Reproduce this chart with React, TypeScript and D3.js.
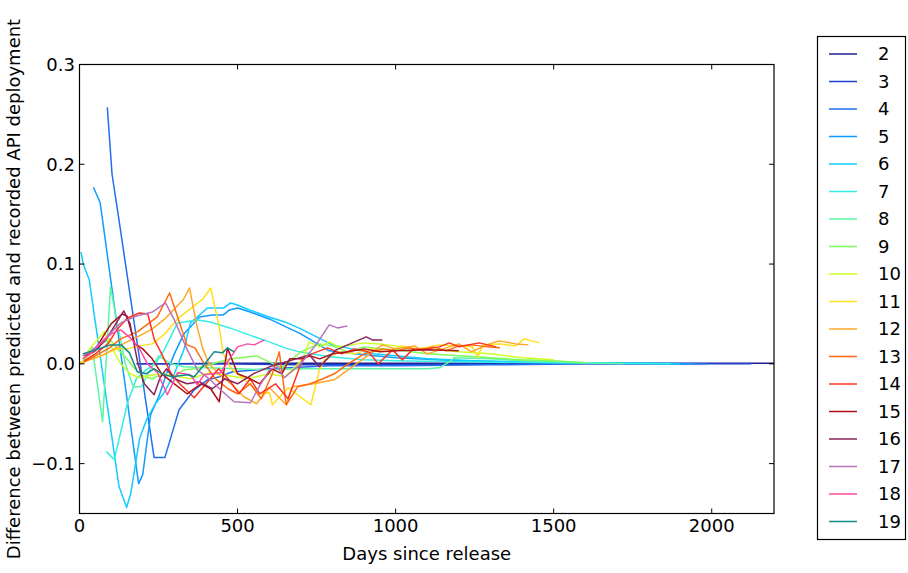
import React from "react";
import * as d3 from "d3";

type P = [number, number];

const xTicks = [0, 500, 1000, 1500, 2000];
const yTicks = [0.3, 0.2, 0.1, 0.0, -0.1];

const s2: P[] = [[180, 0.0], [300, 0.0], [500, 0.0005], [800, 0.0005], [1200, 0.0005], [1600, 0.0005], [2000, 0.0005], [2197, 0.0005]];
const s3: P[] = [[190, 0.0], [400, 0.0], [700, -0.001], [1000, -0.001], [1400, 0.0], [1800, 0.0], [2125, 0.0]];
const s4: P[] = [[88, 0.257], [103, 0.19], [125, 0.144], [236, -0.094], [270, -0.094], [315, -0.046], [363, -0.026], [405, -0.016], [443, -0.013], [484, -0.008], [600, -0.005], [790, -0.002], [1000, -0.002], [1300, -0.001], [1600, 0.0], [1985, 0.0]];
const s5: P[] = [[44, 0.177], [65, 0.162], [73, 0.144], [187, -0.12], [200, -0.111], [225, -0.051], [253, -0.031], [275, -0.01], [300, 0.01], [330, 0.03], [380, 0.047], [420, 0.049], [455, 0.049], [475, 0.054], [500, 0.056], [540, 0.052], [600, 0.045], [700, 0.03], [790, 0.013], [900, 0.009], [1000, 0.006], [1200, 0.003], [1500, 0.001], [1945, 0.0]];
const s6: P[] = [[5, 0.112], [12, 0.1], [31, 0.084], [125, -0.123], [149, -0.144], [162, -0.13], [190, -0.075], [212, -0.056], [240, -0.04], [265, -0.03], [300, -0.01], [330, 0.014], [351, 0.041], [405, 0.056], [457, 0.056], [478, 0.061], [500, 0.059], [530, 0.055], [600, 0.047], [650, 0.042], [700, 0.035], [750, 0.027], [800, 0.019], [860, 0.015], [930, 0.01], [1000, 0.008], [1100, 0.005], [1250, 0.003], [1400, 0.002], [1600, 0.001], [1900, 0.0]];
const s7: P[] = [[85, -0.088], [110, -0.096], [152, -0.039], [180, -0.015], [215, -0.005], [240, 0.0], [268, 0.014], [310, 0.041], [373, 0.044], [414, 0.042], [475, 0.036], [545, 0.028], [600, 0.022], [650, 0.016], [696, 0.012], [790, 0.007], [900, 0.004], [1000, 0.003], [1200, 0.002], [1500, 0.001], [1870, 0.0]];
const s8: P[] = [[15, 0.005], [40, 0.017], [73, -0.058], [98, 0.077], [120, 0.04], [145, 0.0], [170, -0.023], [195, -0.023], [225, -0.005], [250, 0.008], [290, 0.0], [330, -0.003], [400, -0.004], [500, -0.005], [600, -0.006], [700, -0.005], [800, -0.005], [900, -0.005], [1000, -0.005], [1100, -0.005], [1138, -0.004], [1170, 0.002], [1185, 0.006], [1300, 0.005], [1400, 0.003], [1500, 0.002], [1600, 0.001], [1720, 0.0]];
const s9: P[] = [[10, 0.003], [40, 0.012], [70, 0.02], [95, 0.025], [120, 0.015], [150, 0.005], [175, -0.005], [200, -0.012], [230, -0.015], [265, -0.01], [300, -0.013], [330, -0.006], [370, -0.005], [420, 0.0], [480, 0.005], [560, 0.008], [640, -0.004], [700, 0.012], [760, 0.02], [800, 0.018], [850, 0.012], [900, 0.017], [950, 0.015], [1000, 0.014], [1050, 0.012], [1100, 0.01], [1200, 0.008], [1300, 0.006], [1400, 0.004], [1500, 0.003], [1600, 0.001]];
const s10: P[] = [[10, 0.005], [40, 0.018], [78, 0.032], [105, 0.015], [130, 0.0], [160, -0.01], [190, -0.014], [220, -0.012], [260, -0.01], [300, -0.012], [350, -0.015], [410, -0.009], [470, -0.012], [530, -0.015], [600, -0.01], [650, -0.013], [705, 0.004], [727, 0.022], [759, 0.017], [790, 0.022], [820, 0.017], [900, 0.021], [950, 0.02], [1000, 0.018], [1050, 0.015], [1100, 0.015], [1200, 0.012], [1300, 0.01], [1400, 0.006], [1500, 0.004]];
const s11: P[] = [[0, 0.001], [40, 0.005], [80, 0.01], [120, 0.015], [150, 0.015], [190, 0.018], [230, 0.02], [270, 0.03], [310, 0.045], [350, 0.055], [390, 0.065], [415, 0.076], [440, 0.04], [455, 0.01], [480, -0.005], [520, -0.015], [570, -0.03], [601, -0.029], [610, -0.041], [660, -0.024], [732, -0.041], [759, -0.006], [775, 0.004], [820, 0.012], [870, 0.01], [920, 0.015], [970, 0.012], [1020, 0.018], [1070, 0.015], [1138, 0.019], [1243, 0.017], [1260, 0.007], [1275, 0.019], [1330, 0.02], [1380, 0.018], [1407, 0.025], [1455, 0.021]];
const s12: P[] = [[0, 0.0], [30, 0.004], [70, 0.008], [110, 0.015], [150, 0.022], [190, 0.028], [230, 0.035], [270, 0.045], [300, 0.055], [330, 0.065], [348, 0.076], [370, 0.04], [390, 0.015], [410, 0.0], [440, -0.01], [480, -0.02], [520, -0.033], [560, -0.04], [601, -0.024], [654, -0.041], [673, -0.023], [740, -0.02], [806, -0.016], [880, 0.001], [958, 0.019], [1000, 0.015], [1060, 0.018], [1100, 0.01], [1150, 0.015], [1200, 0.02], [1240, 0.012], [1297, 0.02], [1328, 0.023], [1380, 0.02], [1420, 0.019]];
const s13: P[] = [[15, 0.002], [50, 0.008], [95, 0.016], [130, 0.025], [183, 0.032], [246, 0.047], [285, 0.071], [340, 0.019], [365, 0.016], [395, 0.0], [430, -0.015], [470, -0.025], [500, -0.03], [540, -0.02], [575, -0.035], [610, -0.01], [632, 0.012], [654, -0.041], [690, -0.023], [730, -0.02], [770, -0.015], [806, -0.01], [850, 0.0], [900, 0.01], [960, 0.015], [1000, 0.013], [1040, 0.016], [1080, 0.014], [1120, 0.017], [1160, 0.013], [1200, 0.018], [1240, 0.019], [1290, 0.017], [1330, 0.016]];
const s14: P[] = [[15, 0.003], [50, 0.01], [90, 0.02], [120, 0.035], [152, 0.046], [189, 0.051], [216, 0.05], [237, 0.024], [260, 0.01], [290, -0.01], [317, -0.02], [363, -0.034], [400, -0.02], [440, -0.005], [470, -0.015], [505, -0.03], [540, -0.015], [570, -0.03], [620, -0.02], [660, -0.035], [705, 0.004], [735, 0.01], [785, 0.016], [830, 0.01], [870, 0.015], [915, 0.012], [945, 0.0], [990, 0.014], [1021, 0.004], [1053, 0.014], [1100, 0.015], [1138, 0.017], [1170, 0.021], [1200, 0.017], [1230, 0.019], [1265, 0.021], [1318, 0.017]];
const s15: P[] = [[15, 0.008], [45, 0.012], [80, 0.03], [100, 0.04], [135, 0.05], [150, 0.048], [175, 0.02], [200, 0.015], [230, 0.005], [260, -0.01], [300, -0.02], [340, -0.03], [385, -0.02], [415, -0.025], [442, -0.038], [468, 0.016], [500, -0.01], [540, -0.015], [570, -0.02], [610, -0.005], [640, -0.01], [665, 0.005], [700, 0.005], [730, 0.008], [760, 0.005], [800, 0.01], [850, 0.012], [900, 0.015], [950, 0.012], [1000, 0.013], [1100, 0.014], [1200, 0.013]];
const s16: P[] = [[15, 0.01], [50, 0.013], [85, 0.025], [115, 0.04], [140, 0.053], [160, 0.04], [185, 0.0], [205, -0.02], [236, -0.031], [255, -0.014], [275, -0.005], [300, -0.015], [340, -0.02], [380, -0.018], [420, -0.025], [460, -0.015], [500, -0.02], [550, -0.01], [601, -0.003], [727, 0.009], [759, -0.003], [812, 0.014], [907, 0.027], [926, 0.024], [958, 0.024]];
const s17: P[] = [[10, 0.008], [35, 0.012], [80, 0.025], [130, 0.041], [180, 0.048], [231, 0.052], [272, 0.061], [300, 0.044], [341, 0.014], [373, -0.006], [410, -0.015], [446, -0.026], [489, -0.038], [541, -0.039], [568, -0.023], [601, -0.006], [626, -0.003], [648, -0.014], [700, 0.0], [750, 0.02], [790, 0.039], [816, 0.036], [847, 0.038]];
const s18: P[] = [[10, 0.005], [35, 0.01], [65, 0.02], [100, 0.03], [130, 0.034], [161, 0.026], [190, 0.015], [215, 0.0], [247, -0.009], [278, -0.031], [310, -0.009], [351, -0.011], [373, -0.021], [394, -0.011], [446, -0.009], [500, 0.017], [531, 0.02], [553, 0.019], [585, 0.024]];
const s19: P[] = [[10, 0.01], [40, 0.013], [70, 0.016], [98, 0.019], [132, 0.019], [158, 0.011], [183, -0.008], [210, -0.01], [236, -0.005], [268, -0.011], [294, -0.013], [341, -0.011], [363, -0.013], [394, -0.001], [426, 0.012], [452, 0.011], [468, 0.016], [489, 0.012]];

const seriesLabels = ["2", "3", "4", "5", "6", "7", "8", "9", "10", "11", "12", "13", "14", "15", "16", "17", "18", "19"];
const seriesData = [s2, s3, s4, s5, s6, s7, s8, s9, s10, s11, s12, s13, s14, s15, s16, s17, s18, s19];
const seriesColors = ["#202090", "#1f3fcc", "#1f6ff0", "#0f9bff", "#0fcdff", "#33eee6", "#5cf5a5", "#7cfc5a", "#ccff22", "#ffe01a", "#ffa726", "#ff6a10", "#ff3322", "#b01018", "#8c2358", "#b873bb", "#ff4aa5", "#138a8a"];

const W = 908, H = 573;
const L = 79.5, R = 774, T = 64.5, B = 513.5;
const FONT = "'DejaVu Sans', sans-serif";
const FS = 18;

export default function App() {
  const x = d3.scaleLinear().domain([0, 2197]).range([L, R]);
  const y = d3.scaleLinear().domain([-0.15, 0.3]).range([B, T]);
  const line = d3.line<P>().x(d => x(d[0])).y(d => y(d[1]));
  const fmtY = (v: number) => (v < 0 ? "\u2212" : "") + Math.abs(v).toFixed(1);
  const legX = 817.5, legY = 36.5, legW = 88, legH = 503;
  const rowH = 27.5;
  return (
    <svg width={W} height={H} style={{ position: "absolute", left: 0, top: 0, background: "#fff" }} fontFamily={FONT}>
      <rect x={0} y={0} width={W} height={H} fill="#fff" />
      <defs>
        <clipPath id="plot"><rect x={L} y={T} width={R - L} height={B - T} /></clipPath>
      </defs>
      <g clipPath="url(#plot)">
        {seriesData.map((s, i) => (
          <path key={i} d={line(s) || ""} fill="none" stroke={seriesColors[i]} strokeWidth={1.5} strokeLinejoin="round" />
        ))}
      </g>
      <rect x={L} y={T} width={R - L} height={B - T} fill="none" stroke="#000" strokeWidth={1.2} />
      {xTicks.map(t => (
        <g key={"x" + t}>
          <line x1={x(t)} x2={x(t)} y1={B} y2={B - 5} stroke="#000" />
          <line x1={x(t)} x2={x(t)} y1={T} y2={T + 5} stroke="#000" />
          <text x={x(t)} y={532} fontSize={FS} textAnchor="middle">{t}</text>
        </g>
      ))}
      {yTicks.map(t => (
        <g key={"y" + t}>
          <line x1={L} x2={L + 5} y1={y(t)} y2={y(t)} stroke="#000" />
          <line x1={R} x2={R - 5} y1={y(t)} y2={y(t)} stroke="#000" />
          <text x={75} y={y(t)} dy="0.35em" fontSize={FS} textAnchor="end">{fmtY(t)}</text>
        </g>
      ))}
      <text x={(L + R) / 2} y={560} fontSize={FS} textAnchor="middle">Days since release</text>
      <text transform={`translate(14,${(T + B) / 2}) rotate(-90)`} dy="0.35em" fontSize={FS} textAnchor="middle">
        Difference between predicted and recorded API deployment
      </text>
      <rect x={legX} y={legY} width={legW} height={legH} fill="#fff" stroke="#000" strokeWidth={1.2} />
      {seriesLabels.map((lab, i) => {
        const cy = 54 + i * rowH;
        return (
          <g key={"l" + lab}>
            <line x1={829} x2={857} y1={cy} y2={cy} stroke={seriesColors[i]} strokeWidth={1.5} />
            <text x={878} y={cy} dy="0.35em" fontSize={FS}>{lab}</text>
          </g>
        );
      })}
    </svg>
  );
}
